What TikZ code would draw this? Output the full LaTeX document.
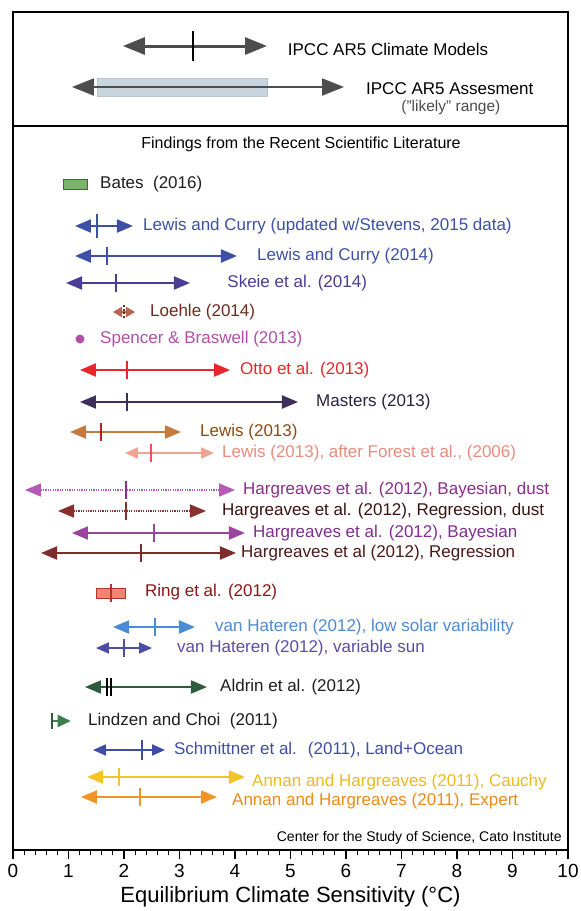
\documentclass[tikz,border=0pt]{standalone}
\usepackage{fontspec}
\setmainfont{Liberation Sans}
\usetikzlibrary{arrows.meta}

\definecolor{ipccgray}{HTML}{4D4D4D}
\definecolor{likelyfill}{HTML}{C8D5DF}
\definecolor{batesfill}{HTML}{7BB36A}
\definecolor{batesline}{HTML}{3D6B35}
\definecolor{lcblue}{HTML}{3C50A6}
\definecolor{skeie}{HTML}{4B3C94}
\definecolor{loehle}{HTML}{B6654F}
\definecolor{loehletext}{HTML}{6E2C1E}
\definecolor{spencer}{HTML}{B24FA9}
\definecolor{otto}{HTML}{E8262B}
\definecolor{masters}{HTML}{3D2E5C}
\definecolor{masterstext}{HTML}{2B2140}
\definecolor{lewis}{HTML}{C47A3F}
\definecolor{lewistext}{HTML}{8C4B12}
\definecolor{forest}{HTML}{F2A293}
\definecolor{foresttext}{HTML}{E98C7E}
\definecolor{hbd}{HTML}{B659B4}
\definecolor{hbdtext}{HTML}{8E2E8C}
\definecolor{hrd}{HTML}{8B2E2E}
\definecolor{hrdtext}{HTML}{3A1212}
\definecolor{hb}{HTML}{9B45A0}
\definecolor{hbtext}{HTML}{7E2F8E}
\definecolor{hr}{HTML}{7E2C2C}
\definecolor{hrtext}{HTML}{4C1818}
\definecolor{ringfill}{HTML}{F4836F}
\definecolor{ringline}{HTML}{B2332A}
\definecolor{ringtext}{HTML}{8E1414}
\definecolor{vhlow}{HTML}{4C8BD4}
\definecolor{vhvar}{HTML}{4C4FA3}
\definecolor{vhvartext}{HTML}{5B4CAA}
\definecolor{aldrin}{HTML}{2F5B3D}
\definecolor{lindzen}{HTML}{3E7D4E}
\definecolor{schmittner}{HTML}{3E4DAA}
\definecolor{cauchy}{HTML}{F2C427}
\definecolor{cauchytext}{HTML}{ECBA22}
\definecolor{expert}{HTML}{F19426}
\definecolor{experttext}{HTML}{EA8C1E}
\definecolor{darktext}{HTML}{1E1E1E}

\tikzset{
  bigecsarrow/.style={line width=3pt,{Triangle[length=22pt,width=17pt]}-{Triangle[length=22pt,width=17pt]}},
  ecsarrow/.style={line width=2pt,{Triangle[length=16pt,width=13pt]}-{Triangle[length=16pt,width=13pt]}},
  smallecsarrow/.style={line width=2pt,{Triangle[length=13pt,width=11pt]}-{Triangle[length=13pt,width=11pt]}},
  tinyecsarrow/.style={line width=1.5pt,{Triangle[length=9pt,width=10pt]}-{Triangle[length=9pt,width=10pt]}},
  bestmark/.style={line width=2pt},
  lab/.style={anchor=west,inner sep=0pt,font=\fontsize{17}{20}\selectfont},
}

\begin{document}
\begin{tikzpicture}[x=55.5pt,y=-1pt]
    \useasboundingbox[fill=white] (-0.2342,0) rectangle (10.2342,911);

    % frame
    \coordinate (boxTL) at (0,12);
    \coordinate (boxBR) at (10,850);
    \draw[line width=1.2pt] (boxTL) rectangle (boxBR);
    \coordinate (divL) at (0,126);
    \coordinate (divR) at (10,126);
    \draw[line width=1.2pt] (divL) -- (divR);

    % IPCC
    \coordinate (modL) at (1.98,46); \coordinate (modR) at (4.577,46); \coordinate (modM) at (3.24,46);
    \path[bigecsarrow,ipccgray] (modL) edge (modR);
    \path[line width=2.5pt] ([yshift=15pt]modM) edge ([yshift=-15pt]modM);
    \node[lab] (models) at (4.95,49) {IPCC AR5 Climate Models};
    \fill[likelyfill,draw=likelyfill!80!gray] (1.514,78) rectangle (4.577,96);
    \coordinate (assL) at (1.063,87); \coordinate (assR) at (5.964,87);
    \path[bigecsarrow,line width=2pt,ipccgray] (assL) edge (assR);
    \node[lab] (assess) at (6.36,89) {IPCC AR5 Assesment};
    \node[font=\fontsize{15.5}{17}\selectfont,text=ipccgray,inner sep=0pt] (likely) at (7.89,107) {("likely" range)};

    \node[font=\fontsize{16}{18}\selectfont,inner sep=0pt] (findings) at (5.19,144) {Findings from the Recent Scientific Literature};

    % Bates
    \node[draw=batesline,fill=batesfill,minimum width=24pt,minimum height=10pt,inner sep=0pt] (batesbox) at (1.117,184) {};
    \node[lab,text=darktext] (bates) at (1.568,184) {Bates~ (2016)};

    % Lewis and Curry
    \coordinate (lcuL) at (1.117,226); \coordinate (lcuR) at (2.162,226); \coordinate (lcuM) at (1.514,226);
    \path[ecsarrow,lcblue] (lcuL) edge (lcuR);
    \path[bestmark,lcblue] ([yshift=12pt]lcuM) edge ([yshift=-12pt]lcuM);
    \node[lab,text=lcblue] (lcu) at (2.342,226) {Lewis and Curry (updated w/Stevens, 2015 data)};
    \coordinate (lcL) at (1.117,256); \coordinate (lcR) at (4.036,256); \coordinate (lcM) at (1.694,256);
    \path[ecsarrow,lcblue] (lcL) edge (lcR);
    \path[bestmark,lcblue] ([yshift=9pt]lcM) edge ([yshift=-9pt]lcM);
    \node[lab,text=lcblue] (lc) at (4.396,256) {Lewis and Curry (2014)};

    % Skeie
    \coordinate (skL) at (0.955,283); \coordinate (skR) at (3.189,283); \coordinate (skM) at (1.856,283);
    \path[ecsarrow,skeie] (skL) edge (skR);
    \path[bestmark,skeie] ([yshift=9pt]skM) edge ([yshift=-9pt]skM);
    \node[lab,text=skeie] (sk) at (3.86,283) {Skeie et al. (2014)};

    % Loehle
    \coordinate (loL) at (1.8,312); \coordinate (loR) at (2.2,312); \coordinate (loM) at (2.0,312);
    \path[tinyecsarrow,loehle] (loL) edge (loR);
    \path[line width=1.2pt,loehletext,dash pattern=on 2pt off 1.5pt] ([yshift=7pt]loM) edge ([yshift=-7pt]loM);
    \node[lab,text=loehletext] (lo) at (2.468,312) {Loehle (2014)};

    % Spencer & Braswell
    \node[circle,fill=spencer,inner sep=0pt,minimum size=9pt] (spdot) at (1.207,339) {};
    \node[lab,text=spencer] (sp) at (1.568,339) {Spencer \& Braswell (2013)};

    % Otto
    \coordinate (otL) at (1.207,370); \coordinate (otR) at (3.91,370); \coordinate (otM) at (2.054,370);
    \path[ecsarrow,otto] (otL) edge (otR);
    \path[bestmark,otto] ([yshift=9pt]otM) edge ([yshift=-9pt]otM);
    \node[lab,text=otto] (ot) at (4.09,370) {Otto et al. (2013)};

    % Masters
    \coordinate (maL) at (1.207,402); \coordinate (maR) at (5.135,402); \coordinate (maM) at (2.054,402);
    \path[ecsarrow,masters] (maL) edge (maR);
    \path[bestmark,masters] ([yshift=9pt]maM) edge ([yshift=-9pt]maM);
    \node[lab,text=masterstext] (ma) at (5.46,402) {Masters (2013)};

    % Lewis
    \coordinate (leL) at (1.027,432); \coordinate (leR) at (3.027,432); \coordinate (leM) at (1.586,432);
    \path[ecsarrow,lewis] (leL) edge (leR);
    \path[bestmark,otto!80!black] ([yshift=9pt]leM) edge ([yshift=-9pt]leM);
    \node[lab,text=lewistext] (le) at (3.37,432) {Lewis (2013)};
    \coordinate (foL) at (2.018,453); \coordinate (foR) at (3.622,453); \coordinate (foM) at (2.486,453);
    \path[smallecsarrow,forest] (foL) edge (foR);
    \path[bestmark,otto!80!white] ([yshift=9pt]foM) edge ([yshift=-9pt]foM);
    \node[lab,text=foresttext] (fo) at (3.766,453) {Lewis (2013), after Forest et al., (2006)};

    % Hargreaves
    \coordinate (hbdL) at (0.216,490); \coordinate (hbdR) at (4.0,490); \coordinate (hbdM) at (2.036,490);
    \path[ecsarrow,line width=1.6pt,hbd,dash pattern=on 1.2pt off 1.2pt] (hbdL) edge (hbdR);
    \path[bestmark,hbdtext] ([yshift=9pt]hbdM) edge ([yshift=-9pt]hbdM);
    \node[lab,text=hbdtext] (hbdl) at (4.144,490) {Hargreaves et al. (2012), Bayesian, dust};
    \coordinate (hrdL) at (0.811,511); \coordinate (hrdR) at (3.477,511); \coordinate (hrdM) at (2.036,511);
    \path[ecsarrow,line width=1.6pt,hrd,dash pattern=on 1.2pt off 1.2pt] (hrdL) edge (hrdR);
    \path[bestmark,hrd] ([yshift=9pt]hrdM) edge ([yshift=-9pt]hrdM);
    \node[lab,text=hrdtext] (hrdl) at (3.766,511) {Hargreaves et al. (2012), Regression, dust};
    \coordinate (hbL) at (1.063,533); \coordinate (hbR) at (4.18,533); \coordinate (hbM) at (2.54,533);
    \path[ecsarrow,hb] (hbL) edge (hbR);
    \path[bestmark,hb] ([yshift=9pt]hbM) edge ([yshift=-9pt]hbM);
    \node[lab,text=hbtext] (hbl) at (4.324,533) {Hargreaves et al. (2012), Bayesian};
    \coordinate (hrL) at (0.505,553); \coordinate (hrR) at (4.018,553); \coordinate (hrM) at (2.306,553);
    \path[ecsarrow,hr] (hrL) edge (hrR);
    \path[bestmark,hr] ([yshift=9pt]hrM) edge ([yshift=-9pt]hrM);
    \node[lab,text=hrtext] (hrl) at (4.108,553) {Hargreaves et al (2012), Regression};

    % Ring
    \node[draw=ringline,fill=ringfill,minimum width=29pt,minimum height=10pt,inner sep=0pt] (ringbox) at (1.757,593) {};
    \path[bestmark,ringline] ([yshift=9pt]ringbox.center) edge ([yshift=-9pt]ringbox.center);
    \node[lab,text=ringtext] (ring) at (2.378,592) {Ring et al. (2012)};

    % van Hateren
    \coordinate (vhlL) at (1.802,627); \coordinate (vhlR) at (3.279,627); \coordinate (vhlM) at (2.559,627);
    \path[ecsarrow,vhlow] (vhlL) edge (vhlR);
    \path[bestmark,vhlow] ([yshift=9pt]vhlM) edge ([yshift=-9pt]vhlM);
    \node[lab,text=vhlow] (vhl) at (3.64,627) {van Hateren (2012), low solar variability};
    \coordinate (vhvL) at (1.495,648); \coordinate (vhvR) at (2.505,648); \coordinate (vhvM) at (2.0,648);
    \path[smallecsarrow,vhvar] (vhvL) edge (vhvR);
    \path[bestmark,vhvar] ([yshift=9pt]vhvM) edge ([yshift=-9pt]vhvM);
    \node[lab,text=vhvartext] (vhv) at (2.955,648) {van Hateren (2012), variable sun};

    % Aldrin
    \coordinate (alL) at (1.297,687); \coordinate (alR) at (3.495,687);
    \coordinate (alM) at (1.694,687); \coordinate (alN) at (1.766,687);
    \path[ecsarrow,aldrin] (alL) edge (alR);
    \path[bestmark,black] ([yshift=9pt]alM) edge ([yshift=-9pt]alM);
    \path[bestmark,black] ([yshift=9pt]alN) edge ([yshift=-9pt]alN);
    \node[lab,text=darktext] (al) at (3.73,687) {Aldrin et al. (2012)};

    % Lindzen and Choi
    \coordinate (liL) at (0.703,721); \coordinate (liR) at (1.04,721);
    \path[line width=2pt,lindzen,-{Triangle[length=13pt,width=12pt]}] (liL) edge (liR);
    \path[bestmark,aldrin] ([yshift=8pt]liL) edge ([yshift=-8pt]liL);
    \node[lab,text=darktext] (li) at (1.351,721) {Lindzen and Choi~ (2011)};

    % Schmittner
    \coordinate (scL) at (1.441,750); \coordinate (scR) at (2.739,750); \coordinate (scM) at (2.324,750);
    \path[smallecsarrow,schmittner] (scL) edge (scR);
    \path[bestmark,schmittner] ([yshift=10pt]scM) edge ([yshift=-10pt]scM);
    \node[lab,text=schmittner] (sc) at (2.90,750) {Schmittner et al.~ (2011), Land+Ocean};

    % Annan and Hargreaves
    \coordinate (caL) at (1.333,777); \coordinate (caR) at (4.18,777); \coordinate (caM) at (1.91,777);
    \path[ecsarrow,cauchy] (caL) edge (caR);
    \path[bestmark,cauchy] ([yshift=9pt]caM) edge ([yshift=-9pt]caM);
    \node[lab,text=cauchytext] (ca) at (4.306,782) {Annan and Hargreaves (2011), Cauchy};
    \coordinate (exL) at (1.225,797); \coordinate (exR) at (3.676,797); \coordinate (exM) at (2.288,797);
    \path[ecsarrow,expert] (exL) edge (exR);
    \path[bestmark,expert] ([yshift=9pt]exM) edge ([yshift=-9pt]exM);
    \node[lab,text=experttext] (ex) at (3.946,801) {Annan and Hargreaves (2011), Expert};

    \node[anchor=east,inner sep=0pt,font=\fontsize{14}{16}\selectfont] (cato) at (9.89,838) {Center for the Study of Science, Cato Institute};

    % axis
    \foreach \t in {0,0.2,...,10.01} \draw[line width=1pt] (\t,850) -- (\t,855);
    \foreach \t in {0,...,10} {
        \draw[line width=1.2pt] (\t,850) -- (\t,859);
        \node[font=\fontsize{19}{21}\selectfont,inner sep=0pt] (num\t) at (\t,871) {\t};
    }
    \node[font=\fontsize{22}{24}\selectfont,inner sep=0pt] (xlabel) at (5,897) {Equilibrium Climate Sensitivity (°C)};
\end{tikzpicture}
\end{document}
